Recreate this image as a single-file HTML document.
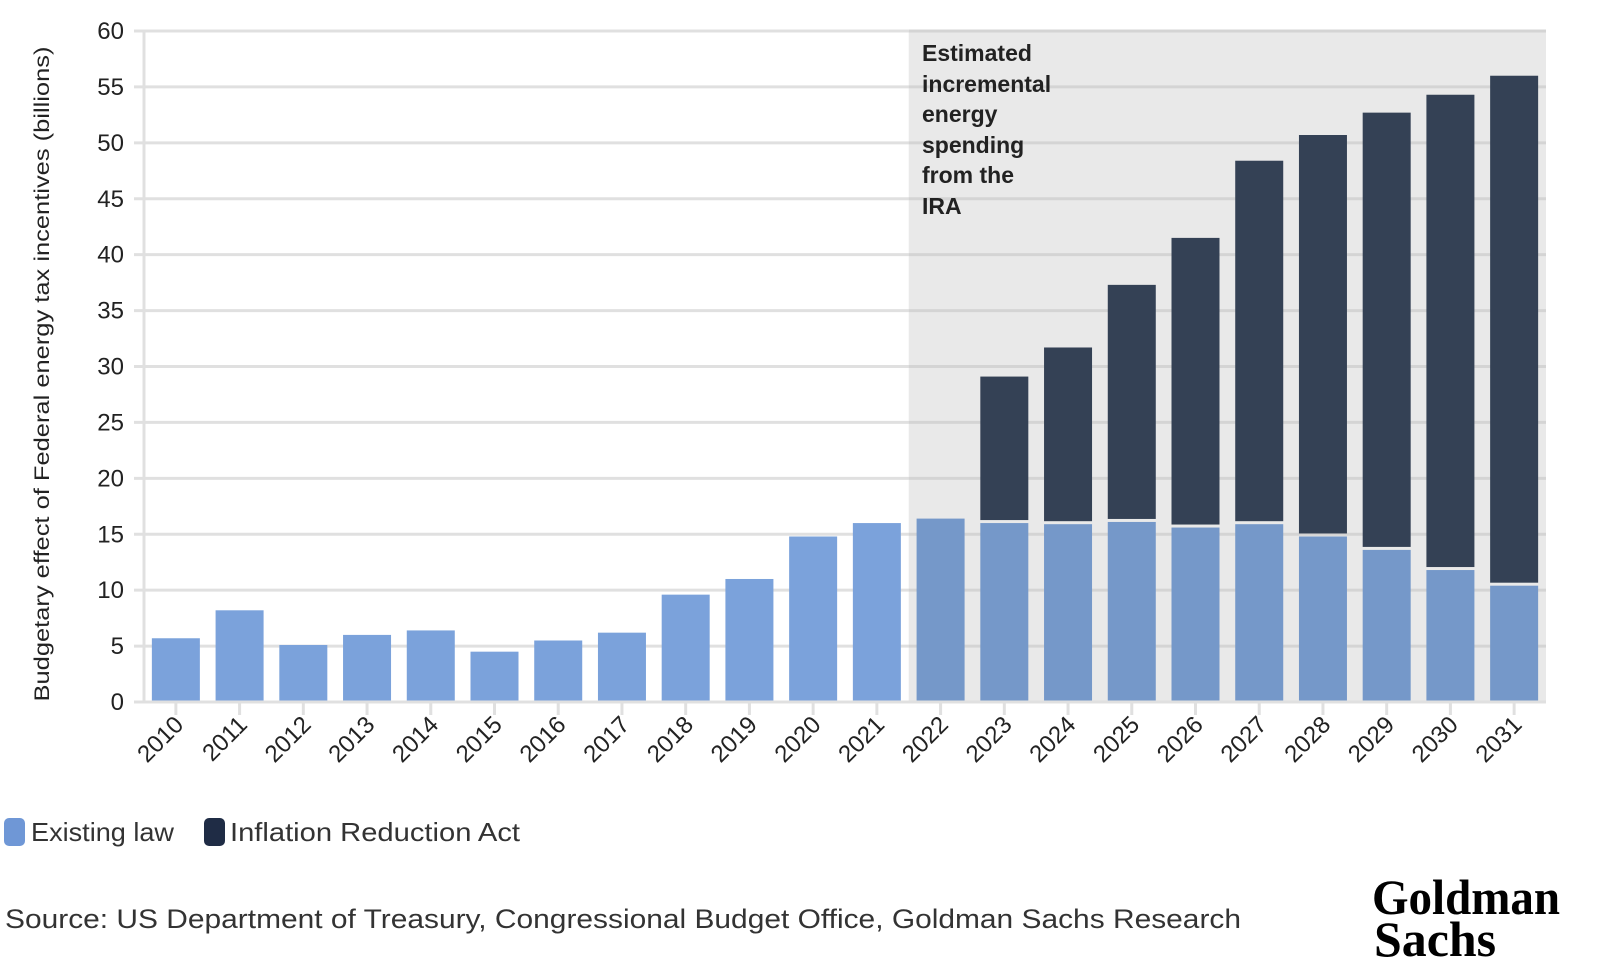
<!DOCTYPE html>
<html><head><meta charset="utf-8">
<style>
html,body{margin:0;padding:0;background:#fff;}
svg{display:block;font-family:"Liberation Sans",sans-serif;}
</style></head>
<body>
<svg id="chart" width="1606" height="976" viewBox="0 0 1606 976">
<g id="grid"></g>
<g id="bars"></g>
<g id="axes"></g>
<text transform="translate(49,374) rotate(-90)" text-anchor="middle" font-size="21" fill="#222" textLength="655" lengthAdjust="spacingAndGlyphs">Budgetary effect of Federal energy tax incentives (billions)</text>
<g font-size="23" font-weight="bold" fill="#222">
<text x="922" y="61">Estimated</text>
<text x="922" y="92">incremental</text>
<text x="922" y="122">energy</text>
<text x="922" y="153">spending</text>
<text x="922" y="183">from the</text>
<text x="922" y="214">IRA</text>
</g>
<g>
<g>
<rect x="4" y="818" width="21" height="28" rx="5" fill="#6f97d6"/>
<text x="31" y="841" font-size="26" fill="#333" textLength="143" lengthAdjust="spacingAndGlyphs">Existing law</text>
</g>
<g>
<rect x="204" y="818" width="21" height="28" rx="5" fill="#1f2c45"/>
<text x="230" y="841" font-size="26" fill="#333" textLength="290" lengthAdjust="spacingAndGlyphs">Inflation Reduction Act</text>
</g>
</g>
<text x="5" y="928" font-size="27" fill="#333" textLength="1236" lengthAdjust="spacingAndGlyphs">Source: US Department of Treasury, Congressional Budget Office, Goldman Sachs Research</text>
<g font-family="'Liberation Serif',serif" font-weight="bold" fill="#000">
<text x="1372" y="914" font-size="50" textLength="188" lengthAdjust="spacingAndGlyphs">Goldman</text>
<text x="1374" y="956" font-size="50" textLength="122" lengthAdjust="spacingAndGlyphs">Sachs</text>
</g>
</svg>
<script>
const years = ["2010","2011","2012","2013","2014","2015","2016","2017","2018","2019","2020","2021","2022","2023","2024","2025","2026","2027","2028","2029","2030","2031"];
const existingLaw = [5.7,8.2,5.1,6.0,6.4,4.5,5.5,6.2,9.6,11.0,14.8,16.0,16.4,16.0,15.9,16.1,15.6,15.9,14.8,13.6,11.8,10.4];
const iraIncrement = [0,0,0,0,0,0,0,0,0,0,0,0,0,13.1,15.8,21.2,25.9,32.5,35.9,39.1,42.5,45.6];
const yTicks = [0,5,10,15,20,25,30,35,40,45,50,55,60];
const shadeStartYear = "2022";

const NS="http://www.w3.org/2000/svg";
const plotLeft=144,plotRight=1546,plotTop=31,plotBottom=702,yMax=60;
const step=(plotRight-plotLeft)/years.length, barW=48;
function xCenter(i){return plotLeft+step*(i+0.5);}
function yPos(v){return plotBottom-(v/yMax)*(plotBottom-plotTop);}
function mk(tag,attrs,parent){const e=document.createElementNS(NS,tag);for(const k in attrs)e.setAttribute(k,attrs[k]);parent.appendChild(e);return e;}

const grid=document.getElementById('grid'),bars=document.getElementById('bars'),axes=document.getElementById('axes');
const si=years.indexOf(shadeStartYear);
const shadeX=plotLeft+step*si;
const shade=mk('rect',{x:shadeX,y:plotTop,width:plotRight-shadeX,height:plotBottom-plotTop,fill:'#e9e9e9'},grid);


yTicks.forEach(t=>{
  const y=yPos(t);
  const l1=mk('line',{x1:plotLeft-10,x2:shadeX,y1:y,y2:y,stroke:'#e0e0e0','stroke-width':3},grid);
  
  
  const l2=mk('line',{x1:shadeX,x2:plotRight,y1:y,y2:y,stroke:'#d4d4d4','stroke-width':3},grid);
  
  
  const tx=mk('text',{x:124,y:y+8,'text-anchor':'end','font-size':24,fill:'#222'},axes);
  tx.textContent=t;
  
  
});
const vax=mk('line',{x1:plotLeft,x2:plotLeft,y1:plotTop,y2:plotBottom,stroke:'#e0e0e0','stroke-width':3},grid);



years.forEach((yr,i)=>{
  const cx=xCenter(i), inShade=i>=si;
  const e=existingLaw[i], a=iraIncrement[i];
  const r1=mk('rect',{x:cx-barW/2,y:yPos(e),width:barW,height:yPos(0)-yPos(e),fill:inShade?'#7598c9':'#7ba2db'},bars);
  
  
  if(a>0){
    const r2=mk('rect',{x:cx-barW/2,y:yPos(e+a),width:barW,height:yPos(e)-yPos(e+a)-3,fill:'#344155'},bars);
    
    
  }
  const tk=mk('line',{x1:cx,x2:cx,y1:plotBottom,y2:plotBottom+13,stroke:'#e0e0e0','stroke-width':3},axes);
  
  
  const lb=mk('text',{transform:`translate(${cx+9},${plotBottom+24}) rotate(-45)`,'text-anchor':'end','font-size':24,fill:'#222'},axes);
  lb.textContent=yr;
  
  
});
const xax=mk('line',{x1:plotLeft-10,x2:plotRight,y1:plotBottom,y2:plotBottom,stroke:'#e0e0e0','stroke-width':3},axes);


</script>
</body></html>
